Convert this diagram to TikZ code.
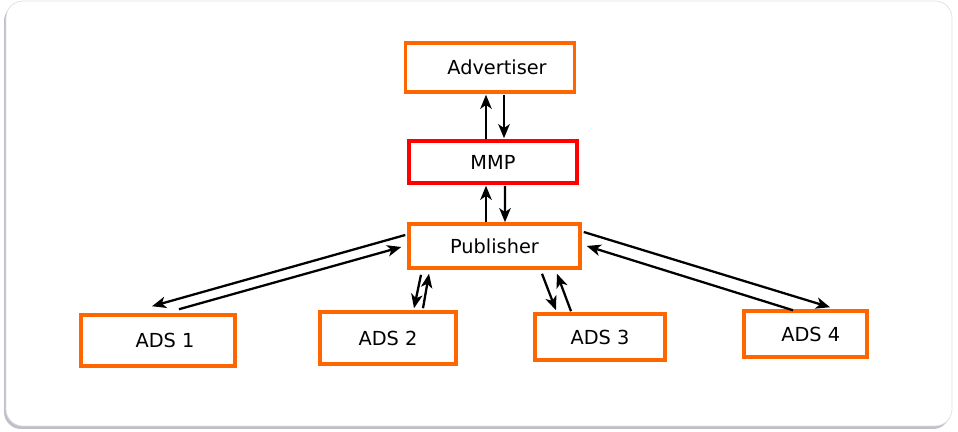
\documentclass[tikz,border=0pt]{standalone}
\usepackage{fontspec}
\setmainfont{DejaVu Sans}
\usetikzlibrary{arrows.meta,calc}

\definecolor{boxorange}{HTML}{FF6600}
\definecolor{boxred}{HTML}{FF0000}

\tikzset{
  box/.style={draw=boxorange, line width=2pt, fill=white, inner sep=0pt,
    font=\fontsize{11}{13}\selectfont},
  arr/.style={line width=1.3pt, -{Stealth[length=8pt,width=6.5pt,inset=2.2pt]}}
}

\begin{document}
\begin{tikzpicture}[x=0.02cm, y=-0.02cm]

    \useasboundingbox (0,0) rectangle (958,432);

    % Frame with shadow
    \fill[blue!10!gray!45, rounded corners=0.34cm] (4,4) rectangle (950,429);
    \draw[gray!25, fill=white, rounded corners=0.34cm] (6,1) rectangle (952,426);

    % Boxes
    \node[box, minimum width=3.38cm, minimum height=0.98cm] (adv) at (490,67.5) {\hspace{8pt}Advertiser};
    \node[box, draw=boxred, minimum width=3.36cm, minimum height=0.84cm] (mmp) at (493,162) {MMP};
    \node[box, minimum width=3.42cm, minimum height=0.88cm] (pub) at (494.5,246) {Publisher};
    \node[box, minimum width=3.08cm, minimum height=1.02cm] (ads1) at (158,340.5) {\hspace{8pt}ADS 1};
    \node[box, minimum width=2.72cm, minimum height=1.04cm] (ads2) at (388,338) {ADS 2};
    \node[box, minimum width=2.60cm, minimum height=0.92cm] (ads3) at (600,337) {ADS 3};
    \node[box, minimum width=2.46cm, minimum height=0.92cm] (ads4) at (805.5,334) {\hspace{6pt}ADS 4};

    % Advertiser <-> MMP
    \draw[arr] ($(mmp.north)+(-7,0)$) -- ($(adv.south)+(-4,1)$);
    \draw[arr] ($(adv.south)+(14,1)$) -- ($(mmp.north)+(11,-1)$);

    % MMP <-> Publisher
    \draw[arr] ($(pub.north)+(-8.5,0)$) -- ($(mmp.south)+(-7,1)$);
    \draw[arr] ($(mmp.south)+(12,1)$) -- ($(pub.north)+(10.5,0)$);

    % Publisher <-> ADS
    \draw[arr] ($(pub.west)+(-2,-11)$) -- ($(ads1.north)+(-6,-7)$);
    \draw[arr] ($(ads1.north)+(21,-4)$) -- ($(pub.west)+(-6,1)$);

    \draw[arr] ($(pub.south)+(-73.5,5)$) -- ($(ads2.north)+(26,-2)$);
    \draw[arr] ($(ads2.north)+(35,-2)$) -- ($(pub.south)+(-65.5,4)$);

    \draw[arr] ($(pub.south)+(47.5,4)$) -- ($(ads3.north)+(-44,-2)$);
    \draw[arr] ($(ads3.north)+(-29,-1)$) -- ($(pub.south)+(62.5,4)$);

    \draw[arr] ($(pub.east)+(2,-14)$) -- ($(ads4.north)+(24.5,-2)$);
    \draw[arr] ($(ads4.north)+(-12.5,1)$) -- ($(pub.east)+(5,0)$);

\end{tikzpicture}
\end{document}
